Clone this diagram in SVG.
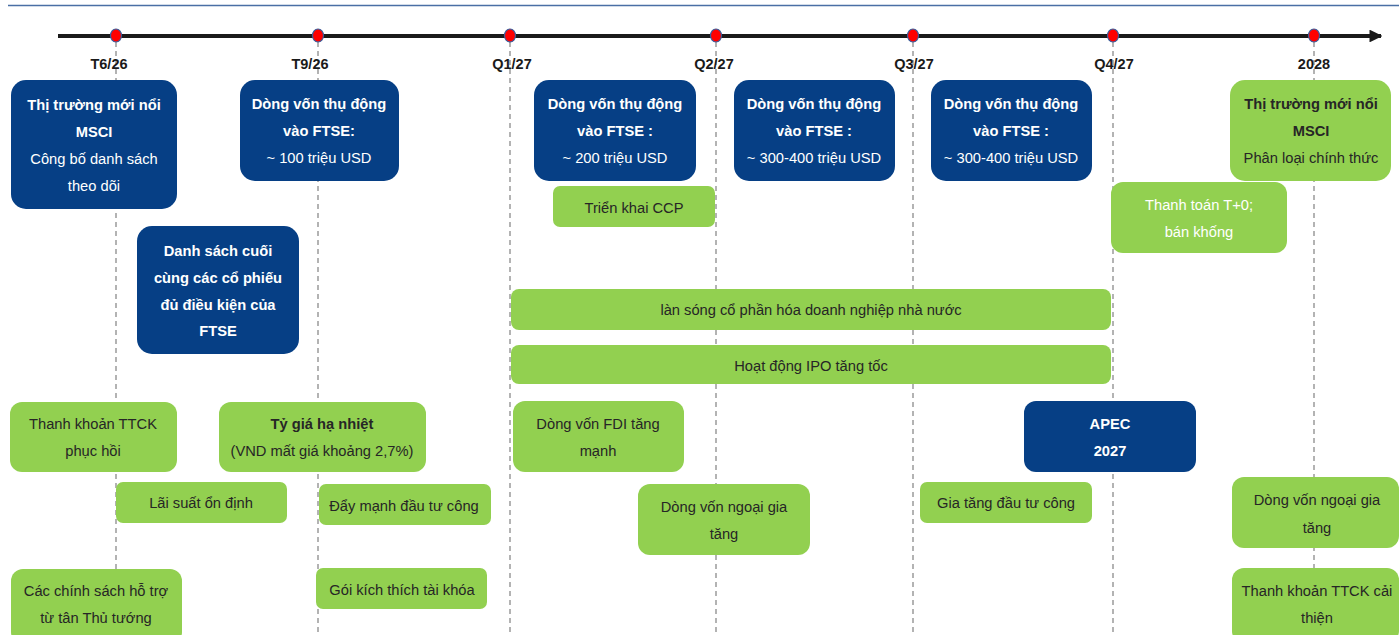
<svg xmlns="http://www.w3.org/2000/svg" width="1399" height="635" viewBox="0 0 1399 635">
<defs>
<marker id="arr" viewBox="0 0 10 10" refX="9" refY="5" markerWidth="3.2" markerHeight="3.2" orient="auto" markerUnits="strokeWidth">
<path d="M0,0 L10,5 L0,10 z" fill="#1a1a1a"/>
</marker>
<style>
text{font-family:"Liberation Sans",Arial,sans-serif;font-size:14.7px;text-anchor:middle}
.b{font-weight:bold}
.w{fill:#ffffff}
.d{fill:#262626}
.nb{fill:#063f85}
.ng{fill:#92d050}
.tick{font-weight:bold;fill:#1a1a1a;font-size:14.5px}
.vl{stroke:#9a9a9a;stroke-width:1.5;stroke-dasharray:5 4;fill:none}
.dot{fill:#ff0000;stroke:#3b5b9a;stroke-width:1.2}
</style>
</defs>
<rect width="1399" height="635" fill="#ffffff"/>
<line x1="8" y1="5.5" x2="1399" y2="5.5" stroke="#4a6fa5" stroke-width="1.5"/>
<g id="connectors">
<line class="vl" x1="116" y1="42" x2="116" y2="635"/>
<line class="vl" x1="318" y1="42" x2="318" y2="635"/>
<line class="vl" x1="510" y1="42" x2="510" y2="635"/>
<line class="vl" x1="716" y1="42" x2="716" y2="635"/>
<line class="vl" x1="913" y1="42" x2="913" y2="635"/>
<line class="vl" x1="1113" y1="42" x2="1113" y2="635"/>
<line class="vl" x1="1314" y1="42" x2="1314" y2="635"/>
<line x1="58" y1="36" x2="1381" y2="36" stroke="#1a1a1a" stroke-width="4" marker-end="url(#arr)"/>
</g>
<g id="timeline">
<ellipse class="dot" cx="116" cy="35.5" rx="5.5" ry="6.5"/>
<ellipse class="dot" cx="318" cy="35.5" rx="5.5" ry="6.5"/>
<ellipse class="dot" cx="510" cy="35.5" rx="5.5" ry="6.5"/>
<ellipse class="dot" cx="716" cy="35.5" rx="5.5" ry="6.5"/>
<ellipse class="dot" cx="913" cy="35.5" rx="5.5" ry="6.5"/>
<ellipse class="dot" cx="1113" cy="35.5" rx="5.5" ry="6.5"/>
<ellipse class="dot" cx="1314" cy="35.5" rx="5.5" ry="6.5"/>
<text class="tick" x="109" y="69">T6/26</text>
<text class="tick" x="310" y="69">T9/26</text>
<text class="tick" x="512" y="69">Q1/27</text>
<text class="tick" x="714" y="69">Q2/27</text>
<text class="tick" x="914" y="69">Q3/27</text>
<text class="tick" x="1114" y="69">Q4/27</text>
<text class="tick" x="1314" y="69">2028</text>
</g>
<g id="n1"><rect class="nb" x="11" y="80" width="166" height="129" rx="15"/>
<text class="w b" x="94" y="110">Thị trường mới nổi</text>
<text class="w b" x="94" y="137">MSCI</text>
<text class="w" x="94" y="164">Công bố danh sách</text>
<text class="w" x="94" y="191">theo dõi</text></g>
<g id="n2"><rect class="nb" x="240" y="80" width="159" height="101" rx="15"/>
<text class="w b" x="319" y="109">Dòng vốn thụ động</text>
<text class="w b" x="319" y="136">vào FTSE:</text>
<text class="w" x="319" y="163">~ 100 triệu USD</text></g>
<g id="n3"><rect class="nb" x="137" y="226" width="162" height="128" rx="15"/>
<text class="w b" x="218" y="256">Danh sách cuối</text>
<text class="w b" x="218" y="283">cùng các cổ phiếu</text>
<text class="w b" x="218" y="310">đủ điều kiện của</text>
<text class="w b" x="218" y="336">FTSE</text></g>
<g id="n4"><rect class="nb" x="534" y="80" width="162" height="101" rx="15"/>
<text class="w b" x="615" y="109">Dòng vốn thụ động</text>
<text class="w b" x="615" y="136">vào FTSE :</text>
<text class="w" x="615" y="163">~ 200 triệu USD</text></g>
<g id="n5"><rect class="nb" x="734" y="80" width="161" height="101" rx="15"/>
<text class="w b" x="814" y="109">Dòng vốn thụ động</text>
<text class="w b" x="814" y="136">vào FTSE :</text>
<text class="w" x="814" y="163">~ 300-400 triệu USD</text></g>
<g id="n6"><rect class="nb" x="931" y="80" width="161" height="101" rx="15"/>
<text class="w b" x="1011" y="109">Dòng vốn thụ động</text>
<text class="w b" x="1011" y="136">vào FTSE :</text>
<text class="w" x="1011" y="163">~ 300-400 triệu USD</text></g>
<g id="n7"><rect class="ng" x="1230" y="80" width="161" height="101" rx="15"/>
<text class="d b" x="1311" y="109">Thị trường mới nổi</text>
<text class="d b" x="1311" y="136">MSCI</text>
<text class="d" x="1311" y="163">Phân loại chính thức</text></g>
<g id="n8"><rect class="ng" x="553" y="186" width="162" height="41" rx="7"/>
<text class="d" x="634" y="213">Triển khai CCP</text></g>
<g id="n9"><rect class="ng" x="1111" y="182" width="176" height="71" rx="12"/>
<text class="w" x="1199" y="210">Thanh toán T+0;</text>
<text class="w" x="1199" y="237">bán khống</text></g>
<g id="n10"><rect class="ng" x="511" y="289" width="600" height="41" rx="8"/>
<text class="d" x="811" y="315">làn sóng cổ phần hóa doanh nghiệp nhà nước</text></g>
<g id="n11"><rect class="ng" x="511" y="345" width="600" height="39" rx="8"/>
<text class="d" x="811" y="371">Hoạt động IPO tăng tốc</text></g>
<g id="n12"><rect class="ng" x="10" y="402" width="167" height="70" rx="12"/>
<text class="d" x="93" y="429">Thanh khoản TTCK</text>
<text class="d" x="93" y="456">phục hồi</text></g>
<g id="n13"><rect class="ng" x="219" y="402" width="207" height="70" rx="12"/>
<text class="d b" x="322" y="429">Tỷ giá hạ nhiệt</text>
<text class="d" x="322" y="456">(VND mất giá khoảng 2,7%)</text></g>
<g id="n14"><rect class="ng" x="116" y="482" width="171" height="41" rx="7"/>
<text class="d" x="201" y="508">Lãi suất ổn định</text></g>
<g id="n15"><rect class="ng" x="319" y="484" width="172" height="41" rx="7"/>
<text class="d" x="404" y="511">Đẩy mạnh đầu tư công</text></g>
<g id="n16"><rect class="ng" x="11" y="569" width="171" height="75" rx="12"/>
<text class="d" x="96" y="596">Các chính sách hỗ trợ</text>
<text class="d" x="96" y="623">từ tân Thủ tướng</text></g>
<g id="n17"><rect class="ng" x="316" y="568" width="171" height="41" rx="7"/>
<text class="d" x="402" y="595">Gói kích thích tài khóa</text></g>
<g id="n18"><rect class="ng" x="513" y="401" width="171" height="71" rx="12"/>
<text class="d" x="598" y="429">Dòng vốn FDI tăng</text>
<text class="d" x="598" y="456">mạnh</text></g>
<g id="n19"><rect class="ng" x="638" y="484" width="172" height="71" rx="12"/>
<text class="d" x="724" y="512">Dòng vốn ngoại gia</text>
<text class="d" x="724" y="539">tăng</text></g>
<g id="n20"><rect class="nb" x="1024" y="401" width="172" height="71" rx="12"/>
<text class="w b" x="1110" y="429">APEC</text>
<text class="w b" x="1110" y="456">2027</text></g>
<g id="n21"><rect class="ng" x="920" y="482" width="172" height="41" rx="7"/>
<text class="d" x="1006" y="508">Gia tăng đầu tư công</text></g>
<g id="n22"><rect class="ng" x="1232" y="477" width="167" height="71" rx="12"/>
<text class="d" x="1317" y="505">Dòng vốn ngoại gia</text>
<text class="d" x="1317" y="533">tăng</text></g>
<g id="n23"><rect class="ng" x="1232" y="568" width="167" height="75" rx="12"/>
<text class="d" x="1317" y="596">Thanh khoản TTCK cải</text>
<text class="d" x="1317" y="623">thiện</text></g>
</svg>
